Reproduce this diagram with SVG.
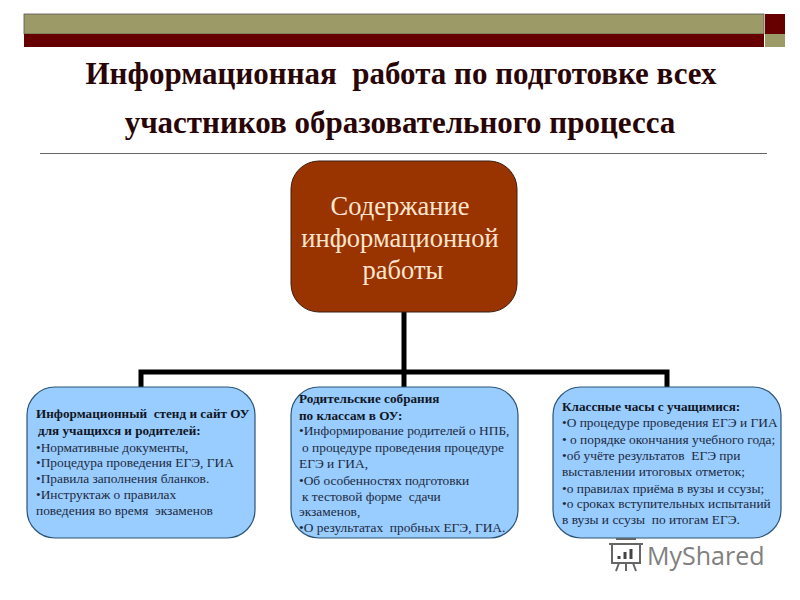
<svg xmlns="http://www.w3.org/2000/svg" width="800" height="600" viewBox="0 0 800 600">
<style>
text{font-family:"Liberation Serif","Times New Roman",serif;white-space:pre}
.title{font-size:31px;font-weight:bold;fill:#2a0505;text-anchor:middle}
.big{font-size:26.5px;fill:#fde6cf;text-anchor:middle}
.t{font-size:13.4px;fill:#1c2a3a}
.b{font-size:13.2px;fill:#10161f;font-weight:bold}
.blue{fill:#99ccff;stroke:#2a5478;stroke-width:1.2}
.conn{stroke:#000;stroke-width:5;fill:none}
</style>
<rect width="800" height="600" fill="#fff"/>
<g id="header">
<rect x="24" y="14" width="740" height="20" fill="#9c9b67" stroke="#555" stroke-width="0.8"/>
<rect x="24" y="34" width="740" height="13" fill="#660000"/>
<rect x="765" y="14" width="20" height="20" fill="#660000"/>
<rect x="765" y="34" width="20" height="13" fill="#9c9b67"/>
<text class="title" x="401" y="84">Информационная  работа по подготовке всех</text>
<text class="title" x="400" y="133">участников образовательного процесса</text>
<line x1="40" y1="153.500" x2="767" y2="153.500" stroke="#666" stroke-width="1.2"/>
</g>
<g id="connectors">
<path class="conn" d="M404 312V387M141 387V372H667V387"/>
</g>
<g id="root">
<rect x="291" y="161" width="226" height="151" rx="28" fill="#993300" stroke="#3a2010" stroke-width="1"/>
<text class="big" x="400" y="215">Содержание</text>
<text class="big" x="400" y="247">информационной</text>
<text class="big" x="403" y="279">работы</text>
</g>
<g id="node-stend">
<rect class="blue" x="27" y="387" width="228" height="151" rx="28"/>
<text class="b" x="36" y="418">Информационный  стенд и сайт ОУ</text>
<text class="b" x="38" y="435">для учащихся и родителей:</text>
<text class="t" x="36" y="452">•Нормативные документы,</text>
<text class="t" x="36" y="467">•Процедура проведения ЕГЭ, ГИА</text>
<text class="t" x="36" y="483">•Правила заполнения бланков.</text>
<text class="t" x="36" y="499">•Инструктаж о правилах</text>
<text class="t" x="36" y="515">поведения во время  экзаменов</text>
</g>
<g id="node-sobraniya">
<rect class="blue" x="291" y="387" width="227" height="151" rx="28"/>
<text class="b" x="299" y="403">Родительские собрания</text>
<text class="b" x="299" y="420">по классам в ОУ:</text>
<text class="t" x="299" y="435">•Информирование родителей о НПБ,</text>
<text class="t" x="302" y="452">о процедуре проведения процедуре</text>
<text class="t" x="299" y="468">ЕГЭ и ГИА,</text>
<text class="t" x="299" y="485">•Об особенностях подготовки</text>
<text class="t" x="302" y="501">к тестовой форме  сдачи</text>
<text class="t" x="299" y="516">экзаменов,</text>
<text class="t" x="299" y="532">•О результатах  пробных ЕГЭ, ГИА.</text>
</g>
<g id="node-chasy">
<rect class="blue" x="553" y="387" width="228" height="151" rx="28"/>
<text class="b" x="562" y="411">Классные часы с учащимися:</text>
<text class="t" x="562" y="427">•О процедуре проведения ЕГЭ и ГИА</text>
<text class="t" x="562" y="444">• о порядке окончания учебного года;</text>
<text class="t" x="562" y="460">•об учёте результатов  ЕГЭ при</text>
<text class="t" x="562" y="476">выставлении итоговых отметок;</text>
<text class="t" x="562" y="493">•о правилах приёма в вузы и ссузы;</text>
<text class="t" x="562" y="508">•о сроках вступительных испытаний</text>
<text class="t" x="562" y="524">в вузы и ссузы  по итогам ЕГЭ.</text>
</g>
<g id="watermark">
<path d="M612 544H640V563H612ZM609 544H643M616 539H636M619 563L616 571M633 563L636 571M626 563V571" fill="none" stroke="#666" stroke-width="2"/>
<path d="M619 559V556M625 559V552M631 559V549" stroke="#444" stroke-width="3"/>
<text x="647" y="565" style="font-family:'Open Sans','DejaVu Sans',sans-serif;font-size:25px;fill:#808080">MyShared</text>
</g>
</svg>
